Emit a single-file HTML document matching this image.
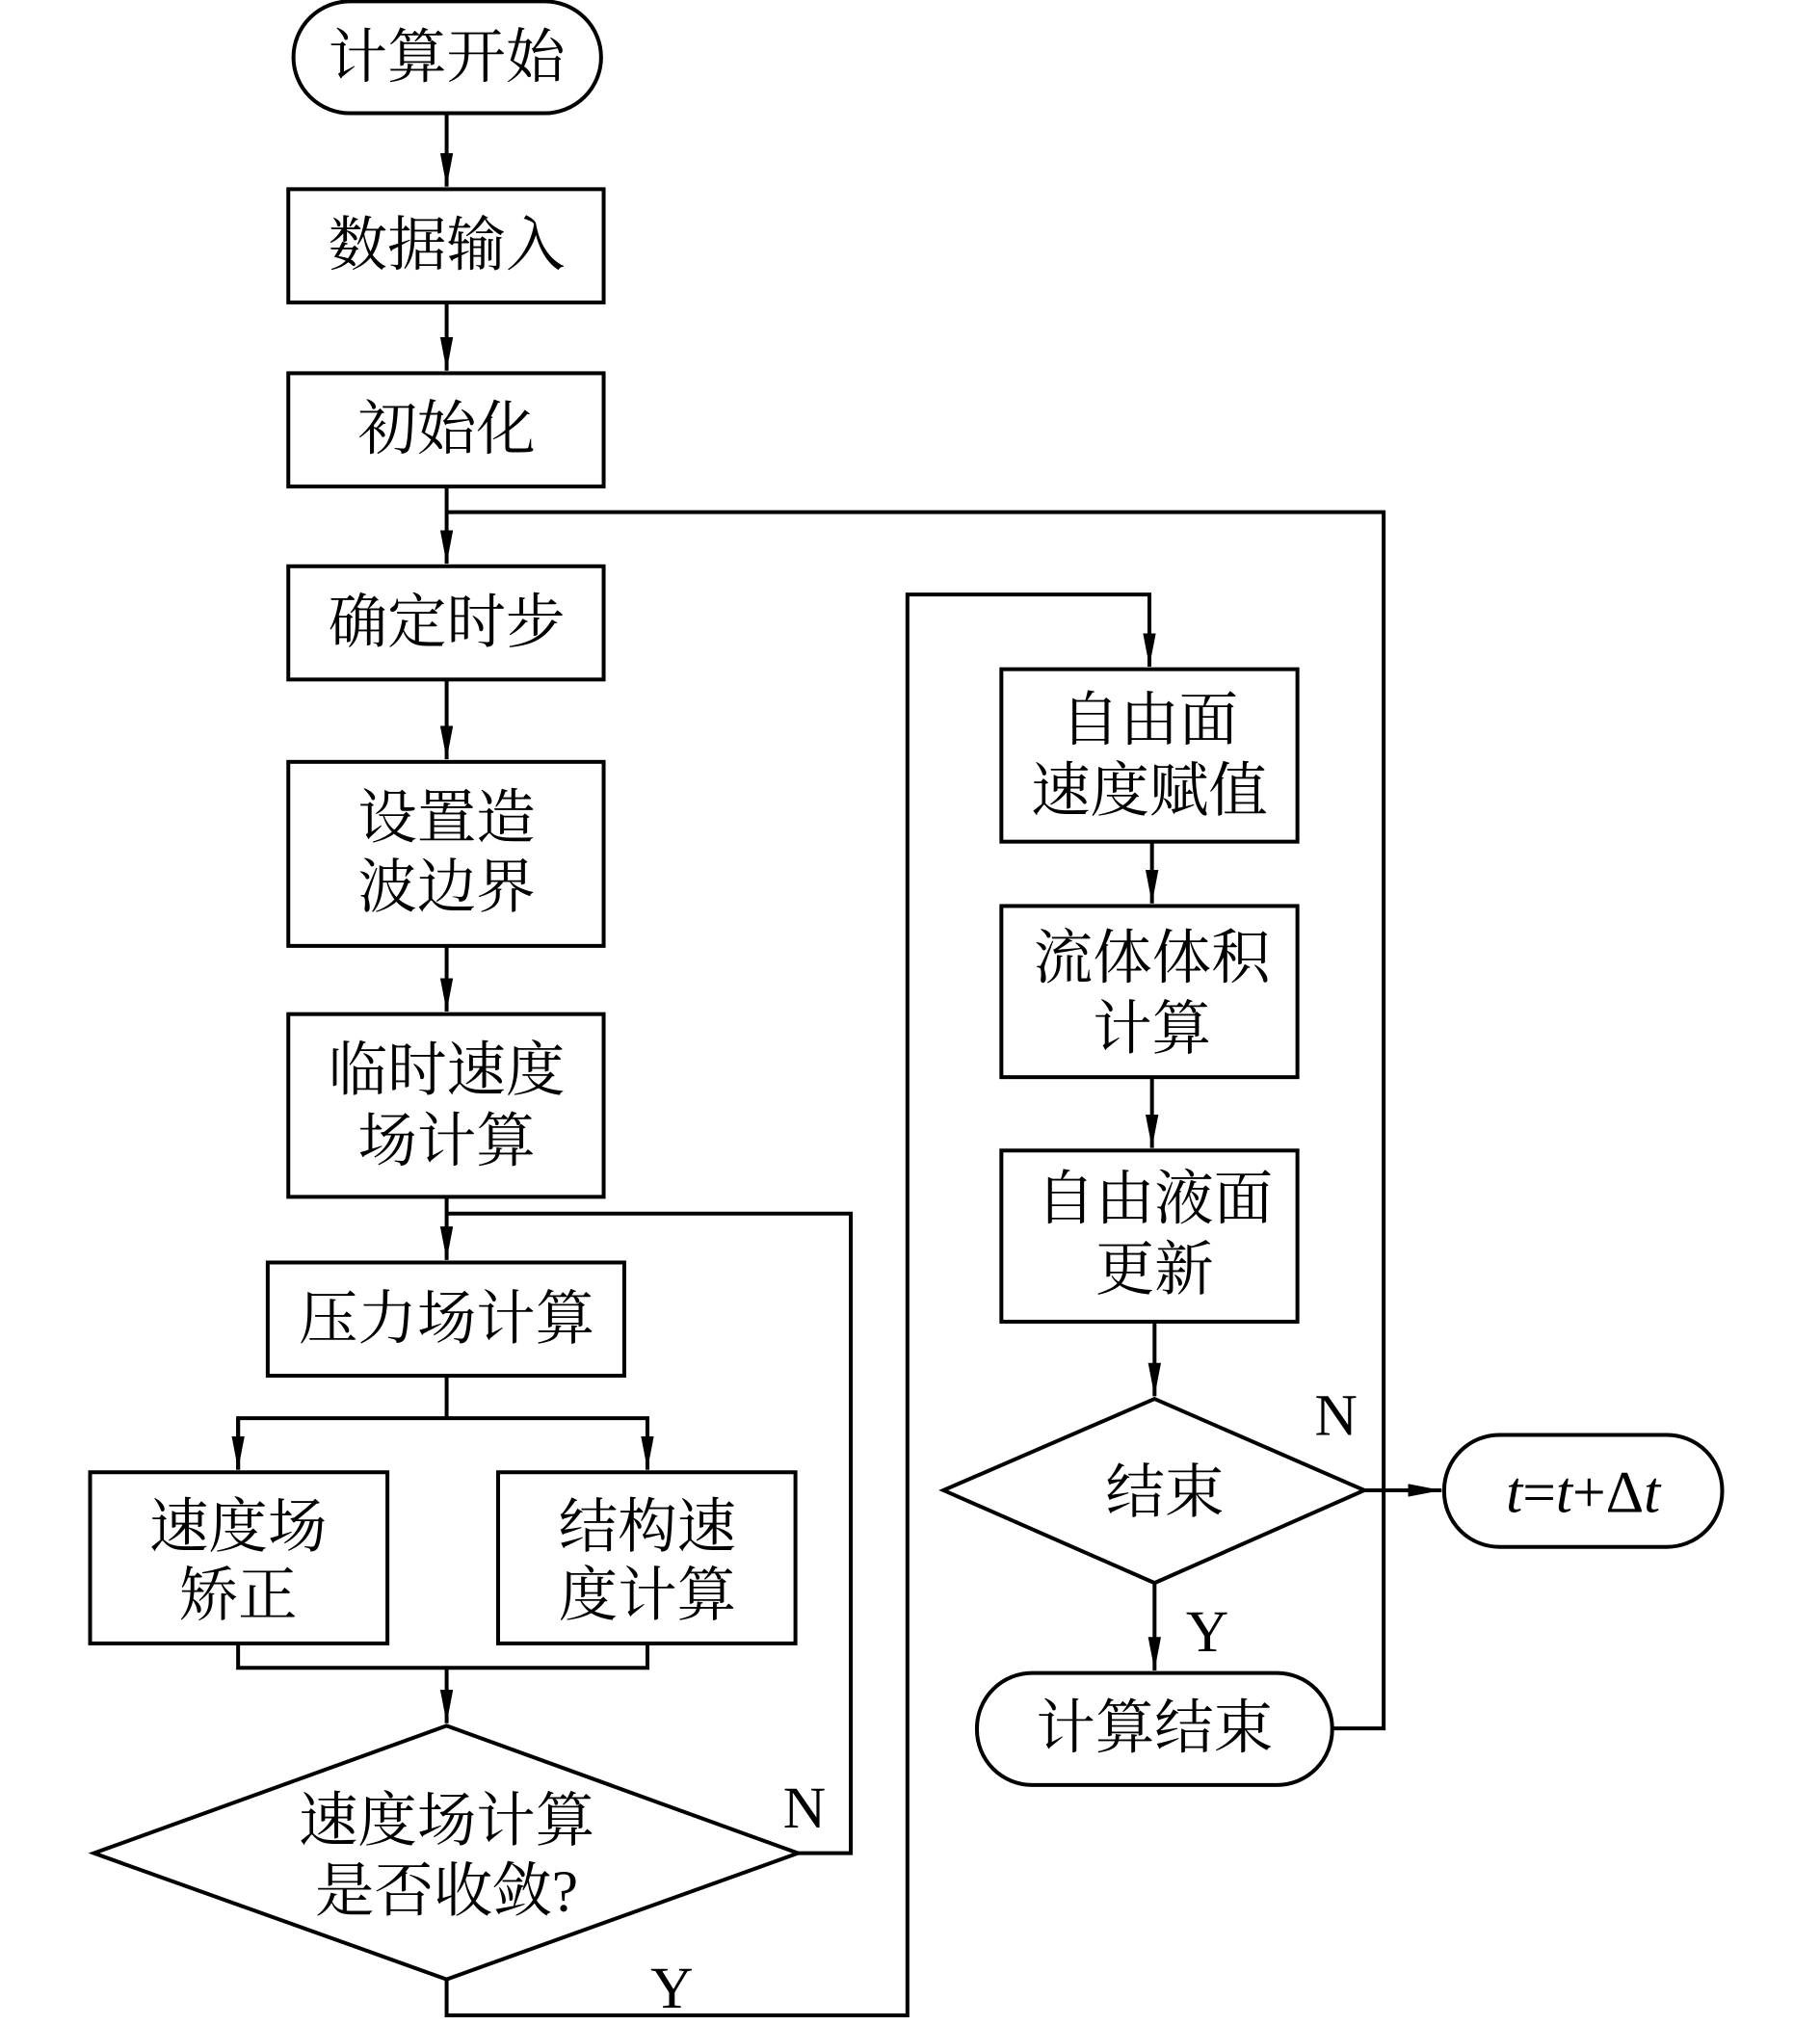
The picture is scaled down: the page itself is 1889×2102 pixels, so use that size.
<!DOCTYPE html>
<html><head><meta charset="utf-8"><style>
html,body{margin:0;padding:0;background:#fff;}
svg{display:block;}
text{font-family:"Liberation Serif","Noto Serif CJK SC","Noto Sans CJK SC",serif;font-size:46px;fill:#000;text-anchor:middle;dominant-baseline:central;}
</style></head><body>
<svg width="1889" height="2102" viewBox="0 0 1414 1573.5" preserveAspectRatio="none" xmlns="http://www.w3.org/2000/svg">
<defs><marker id="a" markerWidth="30" markerHeight="12" refX="26" refY="5" orient="auto" markerUnits="userSpaceOnUse"><path d="M0,0 L26,5 L0,10 Z" fill="#000"/></marker></defs>
<g fill="none" stroke="#000" stroke-width="3">
<rect x="228" y="1" width="239" height="87" rx="44"/>
<rect x="224" y="147" width="245" height="88"/>
<rect x="224" y="290" width="245" height="88"/>
<rect x="224" y="440" width="245" height="88"/>
<rect x="224" y="592" width="245" height="143"/>
<rect x="224" y="788" width="245" height="142"/>
<rect x="208" y="981" width="277" height="88"/>
<rect x="70" y="1144" width="231" height="133"/>
<rect x="387" y="1144" width="231" height="133"/>
<polygon points="347,1341 620,1440 347,1538 73,1440"/>
<rect x="778" y="520" width="230" height="134"/>
<rect x="778" y="704" width="230" height="133"/>
<rect x="778" y="894" width="230" height="133"/>
<polygon points="897,1087 1060,1158 897,1230 733,1158"/>
<rect x="1122" y="1115" width="216" height="87" rx="43"/>
<rect x="759" y="1300" width="276" height="87" rx="43"/>
<!-- connectors -->
<line x1="347" y1="88" x2="347" y2="145" marker-end="url(#a)"/>
<line x1="347" y1="235" x2="347" y2="288" marker-end="url(#a)"/>
<line x1="347" y1="378" x2="347" y2="438" marker-end="url(#a)"/>
<polyline points="347,398 1075,398 1075,1343 1035,1343"/>
<line x1="347" y1="528" x2="347" y2="590" marker-end="url(#a)"/>
<line x1="347" y1="735" x2="347" y2="786" marker-end="url(#a)"/>
<line x1="347" y1="930" x2="347" y2="979" marker-end="url(#a)"/>
<polyline points="347,943 661,943 661,1440 620,1440"/>
<polyline points="347,1069 347,1102"/>
<polyline points="185,1142 185,1102 503,1102 503,1142"/>
<line x1="185" y1="1102" x2="185" y2="1142" marker-end="url(#a)"/>
<line x1="503" y1="1102" x2="503" y2="1142" marker-end="url(#a)"/>
<polyline points="185,1277 185,1296 503,1296 503,1277"/>
<line x1="347" y1="1296" x2="347" y2="1339" marker-end="url(#a)"/>
<polyline points="347,1538 347,1566 705,1566 705,462 893,462 893,500"/>
<line x1="893" y1="490" x2="893" y2="518" marker-end="url(#a)"/>
<line x1="895" y1="654" x2="895" y2="702" marker-end="url(#a)"/>
<line x1="895" y1="837" x2="895" y2="892" marker-end="url(#a)"/>
<line x1="897" y1="1027" x2="897" y2="1085" marker-end="url(#a)"/>
<line x1="1060" y1="1158" x2="1120" y2="1158" marker-end="url(#a)"/>
<line x1="897" y1="1230" x2="897" y2="1298" marker-end="url(#a)"/>
</g>
<text x="347" y="45">计算开始</text>
<text x="347" y="191">数据输入</text>
<text x="347" y="334">初始化</text>
<text x="347" y="484">确定时步</text>
<text x="347" y="636">设置造</text>
<text x="347" y="690">波边界</text>
<text x="347" y="832">临时速度</text>
<text x="347" y="887">场计算</text>
<text x="347" y="1025">压力场计算</text>
<text x="185" y="1187">速度场</text>
<text x="185" y="1240">矫正</text>
<text x="503" y="1187">结构速</text>
<text x="503" y="1240">度计算</text>
<text x="347" y="1415">速度场计算</text>
<text x="347" y="1470">是否收敛?</text>
<text x="625" y="1405">N</text>
<text x="522" y="1545">Y</text>
<text x="893" y="560">自由面</text>
<text x="893" y="615">速度赋值</text>
<text x="895" y="745">流体体积</text>
<text x="895" y="800">计算</text>
<text x="897" y="932">自由液面</text>
<text x="897" y="987">更新</text>
<text x="905" y="1160">结束</text>
<text x="1038" y="1100">N</text>
<text x="938" y="1268">Y</text>
<text x="897" y="1343">计算结束</text>
<text x="1230" y="1160"><tspan font-style="italic">t</tspan>=<tspan font-style="italic">t</tspan>+Δ<tspan font-style="italic">t</tspan></text>
</svg>
</body></html>
